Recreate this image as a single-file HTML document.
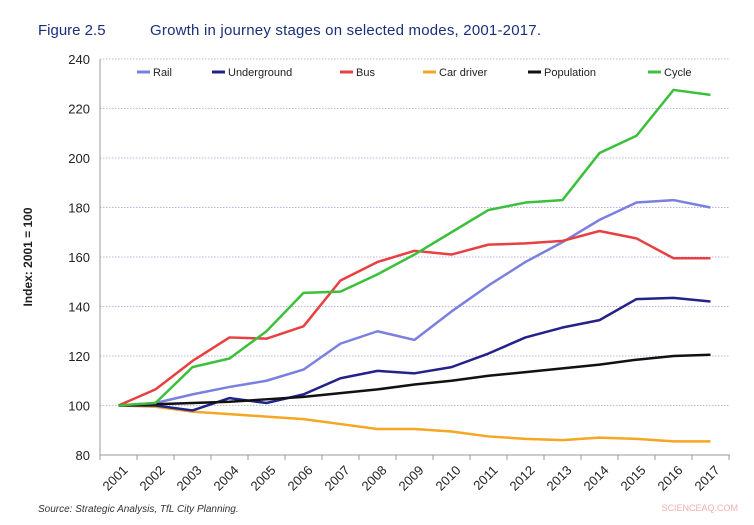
<!DOCTYPE html>
<html><head><meta charset="utf-8"><style>
body{margin:0;background:#fff;width:754px;height:520px;overflow:hidden;font-family:"Liberation Sans",sans-serif}
</style></head><body>
<svg id="s" width="754" height="520" xmlns="http://www.w3.org/2000/svg" font-family="Liberation Sans, sans-serif">
<text x="38" y="35" font-size="15" fill="#1a2f7a">Figure 2.5</text>
<text x="150" y="35" font-size="15" fill="#1a2f7a" textLength="391">Growth in journey stages on selected modes, 2001-2017.</text>
<text x="38" y="512" font-size="10" font-style="italic" fill="#333">Source: Strategic Analysis, TfL City Planning.</text>
<text x="738" y="511" font-size="9" fill="#f0b0b0" text-anchor="end">SCIENCEAQ.COM</text>
<g id="g"></g>
</svg>
<script>
var g=document.getElementById('g'),h='';
function Y(v){return 455-(v-80)*2.475}
function X(i){return 118.5+37*i}
for(var v=80;v<=240;v+=20){var y=Y(v);
 if(v>80)h+='<line x1="100" x2="730" y1="'+y+'" y2="'+y+'" stroke="#b8b8e8" stroke-width="1" stroke-dasharray="1.5,1.5"/>';
 h+='<text x="90" y="'+(y+5)+'" font-size="13" text-anchor="end" fill="#222">'+v+'</text>';}
h+='<line x1="100" x2="100" y1="59" y2="455" stroke="#999"/><line x1="100" x2="730" y1="455" y2="455" stroke="#999"/>';
for(var i=0;i<=17;i++){var x=100+37*i;h+='<line x1="'+x+'" x2="'+x+'" y1="455" y2="460" stroke="#999"/>';}
for(var i=0;i<17;i++){h+='<text transform="translate('+(X(i)+10)+',471) rotate(-45)" font-size="13" text-anchor="end" fill="#222">'+(2001+i)+'</text>';}
h+='<text transform="translate(32,257) rotate(-90)" font-size="12" font-weight="bold" text-anchor="middle" fill="#222">Index: 2001 = 100</text>';
var S=[
['#f5a623',[100,99.5,97.5,96.5,95.5,94.5,92.5,90.5,90.5,89.5,87.5,86.5,86,87,86.5,85.5,85.5]],
['#7b7fe0',[100,101,104.5,107.5,110,114.5,125,130,126.5,138,148.5,158,166,175,182,183,180]],
['#22228a',[100,100,98,103,101,104.5,111,114,113,115.5,121,127.5,131.5,134.5,143,143.5,142]],
['#e84040',[100,106.5,118,127.5,127,132,150.5,158,162.5,161,165,165.5,166.5,170.5,167.5,159.5,159.5]],
['#111',[100,100.5,101,101.5,102.5,103.5,105,106.5,108.5,110,112,113.5,115,116.5,118.5,120,120.5]],
['#3cc03c',[100,101,115.5,119,130,145.5,146,153,161,170,179,182,183,202,209,227.5,225.5]]];
S.forEach(function(s){var p=s[1].map(function(v,i){return X(i)+','+Y(v)}).join(' ');
 h+='<polyline points="'+p+'" fill="none" stroke="'+s[0]+'" stroke-width="2.5" stroke-linejoin="round"/>';});
var L=[['#7b7fe0','Rail',137],['#22228a','Underground',212],['#e84040','Bus',340],['#f5a623','Car driver',423],['#111','Population',528],['#3cc03c','Cycle',648]];
L.forEach(function(l){h+='<line x1="'+l[2]+'" x2="'+(l[2]+13)+'" y1="72" y2="72" stroke="'+l[0]+'" stroke-width="3"/><text x="'+(l[2]+16)+'" y="76" font-size="11" fill="#222">'+l[1]+'</text>';});
g.innerHTML=h;
</script>
</body></html>
